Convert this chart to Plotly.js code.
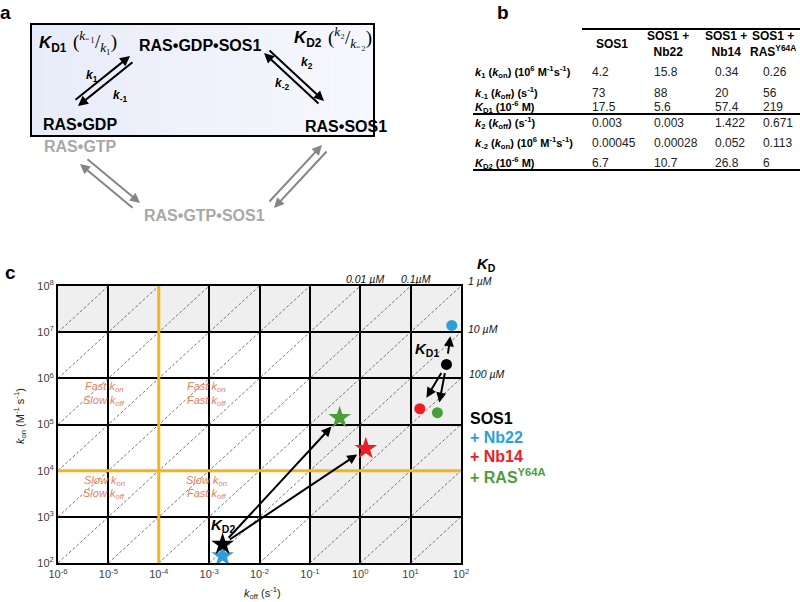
<!DOCTYPE html>
<html><head><meta charset="utf-8">
<script src="https://cdn.plot.ly/plotly-3.0.1.min.js"></script>
<style>html,body{margin:0;padding:0;background:#fff}</style>
</head><body><div id="chart" style="width:800px;height:602px"></div>
<script>
// ================= DATA =================
// Panel b table
const tableColumns = ['SOS1', 'SOS1 +<br>Nb22', 'SOS1 +<br>Nb14', 'SOS1 +<br>RAS<sup>Y64A</sup>'];
const tableRowLabels = [
  '<i>k</i><sub>1</sub> (<i>k</i><sub>on</sub>) (10<sup>6</sup> M<sup>-1</sup>s<sup>-1</sup>)',
  '<i>k</i><sub>-1</sub> (<i>k</i><sub>off</sub>) (s<sup>-1</sup>)',
  '<i>K</i><sub>D1</sub> (10<sup>-6</sup> M)',
  '<i>k</i><sub>2</sub> (<i>k</i><sub>off</sub>) (s<sup>-1</sup>)',
  '<i>k</i><sub>-2</sub> (<i>k</i><sub>on</sub>) (10<sup>6</sup> M<sup>-1</sup>s<sup>-1</sup>)',
  '<i>K</i><sub>D2</sub> (10<sup>-6</sup> M)'
];
const k1Values      = ['4.2', '15.8', '0.34', '0.26'];
const kMinus1Values = ['73', '88', '20', '56'];
const KD1Values     = ['17.5', '5.6', '57.4', '219'];
const k2Values      = ['0.003', '0.003', '1.422', '0.671'];
const kMinus2Values = ['0.00045', '0.00028', '0.052', '0.113'];
const KD2Values     = ['6.7', '10.7', '26.8', '6'];

// Panel c points: order SOS1, +Nb22, +Nb14, +RAS Y64A
const seriesNames  = ['SOS1', '+ Nb22', '+ Nb14', '+ RAS<sup>Y64A</sup>'];
const seriesColors = ['#000000', '#2a9fd8', '#ee1c24', '#4c9e3a'];
const kd1Koff = [51.5, 65.6, 15.2, 34];
const kd1Kon  = [2.0e6, 1.4e7, 2.2e5, 1.8e5];
const kd2Koff = [1.85e-3, 1.85e-3, 1.29, 0.39];
const kd2Kon  = [254, 142, 3.0e4, 1.4e5];

// Axis ticks
const xTickExp = [-6, -5, -4, -3, -2, -1, 0, 1, 2];
const yTickExp = [2, 3, 4, 5, 6, 7, 8];
// iso-KD dashed lines (log10 KD in M)
const kdIsoExp = [-13, -12, -11, -10, -9, -8, -7, -6, -5, -4, -3, -2, -1];
const kdLabels = ['0.01 µM', '0.1µM', '1 µM', '10 µM', '100 µM'];

// ================= LAYOUT HELPERS =================
const F = 'Liberation Sans, Arial, Helvetica, sans-serif';
const SERIF = 'Liberation Serif, Times New Roman, serif';
const W = 800, H = 602;
const PX0 = 58, PX1 = 461, PY0 = 286, PY1 = 563; // plot area pixels
const P = (x, y) => ({x: x / W, y: 1 - y / H, xref: 'paper', yref: 'paper'});
function txt(x, y, text, opt) {
  opt = opt || {};
  return Object.assign(P(x, y), {
    text: text, showarrow: false, xanchor: opt.xa || 'center', yanchor: opt.ya || 'middle',
    textangle: opt.angle || 0,
    font: {family: opt.family || F, size: opt.size || 12, color: opt.color || '#000'}
  });
}
function arr(x0, y0, x1, y1, color, width) {
  return Object.assign(P(x1, y1), {
    text: '', showarrow: true, ax: x0 - x1, ay: y0 - y1, axref: 'pixel', ayref: 'pixel',
    arrowhead: 2, arrowsize: 1, arrowwidth: width || 2, arrowcolor: color || '#000'
  });
}
function rectP(x0, y0, x1, y1, fill, lw, lc) {
  return {type: 'rect', xref: 'paper', yref: 'paper', x0: x0 / W, x1: x1 / W, y0: 1 - y0 / H, y1: 1 - y1 / H,
    fillcolor: fill, line: {width: lw || 0, color: lc || '#000'}, layer: 'above'};
}
function lineP(x0, y0, x1, y1, lw, lc) {
  return {type: 'line', xref: 'paper', yref: 'paper', x0: x0 / W, x1: x1 / W, y0: 1 - y0 / H, y1: 1 - y1 / H,
    line: {width: lw, color: lc || '#000'}, layer: 'above'};
}

const annotations = [];
const shapes = [];

// ================= PANEL a =================
annotations.push(txt(5, 12, '<b>a</b>', {size: 19}));
// soft bluish gradient box
const boxX0 = 31, boxX1 = 374, nStrips = 24;
for (let i = 0; i < nStrips; i++) {
  const t = i / (nStrips - 1);
  const r = Math.round(232 + (247 - 232) * t), g = Math.round(236 + (248 - 236) * t), b = Math.round(249 + (253 - 249) * t);
  const xa = boxX0 + (boxX1 - boxX0) * i / nStrips, xb = boxX0 + (boxX1 - boxX0) * (i + 1) / nStrips + 0.5;
  shapes.push(rectP(xa, 24, xb, 136, `rgb(${r},${g},${b})`, 0));
}
shapes.push(rectP(boxX0, 24, boxX1, 136, 'rgba(0,0,0,0)', 2, '#000'));
annotations.push(txt(37, 44, '<b><i>K</i><sub>D1</sub></b>', {xa: 'left', size: 17}));
annotations.push(txt(71, 41, '(<sup><i>k</i>₋₁</sup>/<sub><i>k</i>₁</sub>)', {xa: 'left', size: 19, family: SERIF}));
annotations.push(txt(200, 46, '<b>RAS•GDP•SOS1</b>', {size: 16}));
annotations.push(txt(292, 39, '<b><i>K</i><sub>D2</sub></b>', {xa: 'left', size: 17}));
annotations.push(txt(326, 38, '(<sup><i>k</i>₂</sup>/<sub><i>k</i>₋₂</sub>)', {xa: 'left', size: 19, family: SERIF}));
annotations.push(txt(80, 125, '<b>RAS•GDP</b>', {size: 16}));
annotations.push(txt(346, 126, '<b>RAS•SOS1</b>', {size: 16}));
// black arrows
annotations.push(arr(74, 101, 130, 56, '#000', 2));
annotations.push(arr(134, 61, 78, 106, '#000', 2));
annotations.push(txt(92, 76, '<b><i>k</i><sub>1</sub></b>', {size: 12}));
annotations.push(txt(120, 96, '<b><i>k</i><sub>-1</sub></b>', {size: 12}));
annotations.push(arr(268, 49, 324, 101, '#000', 2));
annotations.push(arr(320, 105, 264, 53, '#000', 2));
annotations.push(txt(307, 63, '<b><i>k</i><sub>2</sub></b>', {size: 12}));
annotations.push(txt(282, 84, '<b><i>k</i><sub>-2</sub></b>', {size: 12}));
// grey part
annotations.push(txt(80, 146, '<b>RAS•GTP</b>', {size: 16, color: '#a8a8a8'}));
annotations.push(txt(205, 215, '<b>RAS•GTP•SOS1</b>', {size: 16, color: '#a8a8a8'}));
annotations.push(arr(86, 158, 140, 203, '#858585', 2));
annotations.push(arr(134, 209, 80, 164, '#858585', 2));
annotations.push(arr(268, 203, 322, 145, '#858585', 2));
annotations.push(arr(328, 150, 274, 208, '#858585', 2));

// ================= PANEL b =================
annotations.push(txt(503, 12, '<b>b</b>', {size: 19}));
const colCenters = [612, 668, 726, 773];
const colLeft = [590, 652, 713, 761];
tableColumns.forEach((c, i) => {
  annotations.push(txt(colCenters[i], 44, '<b>' + c + '</b>', {size: 12}));
});
const rowYs = [72, 93, 107, 123, 143, 163];
const rowVals = [k1Values, kMinus1Values, KD1Values, k2Values, kMinus2Values, KD2Values];
tableRowLabels.forEach((lab, r) => {
  annotations.push(txt(473, rowYs[r], '<b>' + lab + '</b>', {xa: 'left', size: 11}));
  rowVals[r].forEach((v, i) => annotations.push(txt(colLeft[i], rowYs[r], v, {xa: 'left', size: 12, color: '#222'})));
});
shapes.push(lineP(582, 29, 800, 29, 2));
shapes.push(lineP(473, 114, 800, 114, 2));
shapes.push(lineP(473, 170, 800, 170, 2));

// ================= PANEL c =================
annotations.push(txt(10, 272, '<b>c</b>', {size: 19}));
const orange = '#e6825a';
const regText = [
  [104, 387, 'Fast <i>k</i><sub>on</sub>'], [104, 401, 'Slow <i>k</i><sub>off</sub>'],
  [206, 387, 'Fast <i>k</i><sub>on</sub>'], [206, 401, 'Fast <i>k</i><sub>off</sub>'],
  [104, 481, 'Slow <i>k</i><sub>on</sub>'], [104, 494, 'Slow <i>k</i><sub>off</sub>'],
  [206, 481, 'Slow <i>k</i><sub>on</sub>'], [206, 494, 'Fast <i>k</i><sub>off</sub>']
];
regText.forEach(t => annotations.push(txt(t[0], t[1], '<i>' + t[2] + '</i>', {size: 11, color: orange})));
// KD labels
const kdLabPos = [[365, 279], [416, 279], [480, 281], [483, 329], [486, 374]];
kdLabels.forEach((l, i) => annotations.push(txt(kdLabPos[i][0], kdLabPos[i][1], '<i>' + l + '</i>', {size: 10.5, color: '#111'})));
annotations.push(txt(486, 264, '<b><i>K</i><sub>D</sub></b>', {size: 15}));
annotations.push(txt(427, 349, '<b><i>K</i><sub>D1</sub></b>', {size: 15}));
annotations.push(txt(223, 525, '<b><i>K</i><sub>D2</sub></b>', {size: 15}));
// legend texts
const legY = [418, 437, 456, 476];
seriesNames.forEach((n, i) => annotations.push(txt(468, legY[i], '<b>' + n + '</b>', {xa: 'left', size: 16, color: seriesColors[i]})));
// axis titles
annotations.push(txt(262, 593, '<i>k</i><sub>off</sub> (s<sup>-1</sup>)', {size: 11, color: '#222'}));
annotations.push(txt(20, 416, '<i>k</i><sub>on</sub> (M<sup>-1</sup> s<sup>-1</sup>)', {size: 11, color: '#222', angle: -90}));

// arrows between data points (log coordinates)
const L = Math.log10;
function dataArrow(xs, ys, from, to, f0, f1) {
  const ax0 = L(xs[from]), ay0 = L(ys[from]), bx = L(xs[to]), by = L(ys[to]);
  return {xref: 'x', yref: 'y', axref: 'x', ayref: 'y',
    x: ax0 + (bx - ax0) * f1, y: ay0 + (by - ay0) * f1,
    ax: ax0 + (bx - ax0) * f0, ay: ay0 + (by - ay0) * f0,
    text: '', showarrow: true, arrowhead: 2, arrowsize: 1, arrowwidth: 2, arrowcolor: '#000'};
}
annotations.push(dataArrow(kd1Koff, kd1Kon, 0, 1, 0.24, 0.72));
annotations.push(dataArrow(kd1Koff, kd1Kon, 0, 2, 0.16, 0.75));
annotations.push(dataArrow(kd1Koff, kd1Kon, 0, 3, 0.15, 0.79));
annotations.push(dataArrow(kd2Koff, kd2Kon, 0, 3, 0.04, 0.93));
annotations.push(dataArrow(kd2Koff, kd2Kon, 0, 2, 0.04, 0.94));

// grey cells (data values on log axes)
shapes.push({type: 'rect', xref: 'x', yref: 'y', x0: 1e-6, x1: 1e-1, y0: 1e7, y1: 1e8, fillcolor: '#efefef', line: {width: 0}, layer: 'below'});
shapes.push({type: 'rect', xref: 'x', yref: 'y', x0: 1e-1, x1: 1e2, y0: 1e2, y1: 1e8, fillcolor: '#efefef', line: {width: 0}, layer: 'below'});

const traces = [];
kdIsoExp.forEach(e => {
  const x0 = Math.max(-6, 2 + e), x1 = Math.min(2, 8 + e);
  traces.push({type: 'scatter', mode: 'lines', x: [Math.pow(10, x0), Math.pow(10, x1)],
    y: [Math.pow(10, x0 - e), Math.pow(10, x1 - e)],
    line: {color: '#555', width: 0.8, dash: '3px,2px'}, hoverinfo: 'skip'});
});
// orange threshold lines
traces.push({type: 'scatter', mode: 'lines', x: [1e-4, 1e-4], y: [1e2, 1e8], line: {color: '#f2b51d', width: 3}});
traces.push({type: 'scatter', mode: 'lines', x: [1e-6, 1e2], y: [1e4, 1e4], line: {color: '#f2b51d', width: 3}});
// KD1 circles
traces.push({type: 'scatter', mode: 'markers', x: kd1Koff, y: kd1Kon,
  marker: {symbol: 'circle', size: 11, color: seriesColors, line: {width: 0}}});
// KD2 stars (draw blue before black)
const starOrder = [1, 0, 2, 3];
traces.push({type: 'scatter', mode: 'markers', x: starOrder.map(i => kd2Koff[i]), y: starOrder.map(i => kd2Kon[i]),
  marker: {symbol: 'star', size: 17, color: starOrder.map(i => seriesColors[i]), line: {width: 0}}});

const axisCommon = {type: 'log', showgrid: true, gridcolor: '#000', gridwidth: 2, showline: true,
  linecolor: '#000', linewidth: 2, mirror: true, zeroline: false, ticks: '', tickmode: 'array',
  tickfont: {family: F, size: 11, color: '#404040'}, fixedrange: true};

const layout = {
  width: W, height: H, margin: {l: 0, r: 0, t: 0, b: 0},
  paper_bgcolor: '#fff', plot_bgcolor: '#fff', showlegend: false, hovermode: false,
  xaxis: Object.assign({}, axisCommon, {range: [-6, 2], domain: [PX0 / W, PX1 / W],
    tickvals: xTickExp.map(e => Math.pow(10, e)), ticktext: xTickExp.map(e => '10<sup>' + e + '</sup>')}),
  yaxis: Object.assign({}, axisCommon, {range: [2, 8], domain: [1 - PY1 / H, 1 - PY0 / H],
    tickvals: yTickExp.map(e => Math.pow(10, e)), ticktext: yTickExp.map(e => '10<sup>' + e + '</sup>')}),
  annotations: annotations, shapes: shapes
};
Plotly.newPlot('chart', traces, layout, {staticPlot: true, displayModeBar: false});
</script></body></html>
